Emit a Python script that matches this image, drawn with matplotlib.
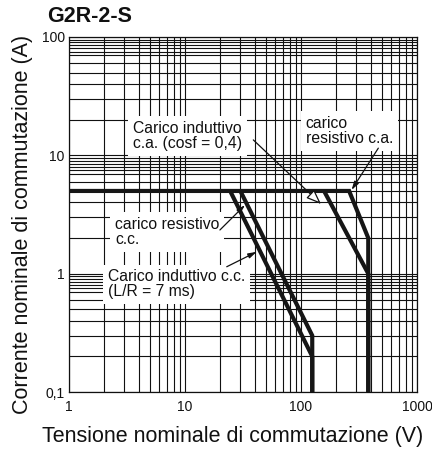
import numpy as np
import matplotlib
matplotlib.use("Agg")
import matplotlib.pyplot as plt
from matplotlib.ticker import FixedLocator, FixedFormatter, NullFormatter

plt.rcParams['font.family'] = ['Liberation Sans', 'DejaVu Sans']

# Switching limit curves: voltage (V) vs. current (A)
dc_res_v = [30, 125, 125]
dc_res_i = [5, 0.3, 0.1]
dc_ind_v = [24.5, 125, 125]
dc_ind_i = [5, 0.2, 0.1]
ac_res_v = [1, 260, 380, 380]
ac_res_i = [5, 5, 2, 0.1]
ac_ind_v = [158, 380, 380]
ac_ind_i = [5, 1, 0.1]

x_ticks = [1, 10, 100, 1000]
x_tick_labels = ["1", "10", "100", "1000"]
y_ticks = [0.1, 1, 10, 100]
y_tick_labels = ["0,1", "1", "10", "100"]

title = "G2R-2-S"
x_label = "Tensione nominale di commutazione (V)"
y_label = "Corrente nominale di commutazione (A)"

fig = plt.figure(figsize=(4.32, 4.5), dpi=100)
ax = fig.add_axes([69 / 432, 1 - 392 / 450, 348 / 432, 355 / 450])
ax.set_xscale('log')
ax.set_yscale('log')
ax.set_xlim(1, 1000)
ax.set_ylim(0.1, 100)

# grid lines
x_minor = [m * d for d in (1, 10, 100) for m in range(2, 10)]
y_minor = [m * d for d in (0.1, 1, 10) for m in (2, 3, 4, 5, 6, 7, 7.5, 8, 8.5, 9, 9.5)]
ax.xaxis.set_major_locator(FixedLocator(x_ticks))
ax.xaxis.set_major_formatter(FixedFormatter(x_tick_labels))
ax.yaxis.set_major_locator(FixedLocator(y_ticks))
ax.yaxis.set_major_formatter(FixedFormatter(y_tick_labels))
ax.xaxis.set_minor_locator(FixedLocator(x_minor))
ax.yaxis.set_minor_locator(FixedLocator(y_minor))
ax.xaxis.set_minor_formatter(NullFormatter())
ax.yaxis.set_minor_formatter(NullFormatter())
ax.set_axisbelow(True)
ax.grid(which='both', color='#111111', lw=0.8)
ax.tick_params(which='both', length=0, labelsize=10, colors='#111111')
ax.tick_params(axis='x', pad=6)
ax.tick_params(axis='y', pad=3)
for s in ax.spines.values():
    s.set_linewidth(0.9)
    s.set_color('#111111')

curve_kw = dict(color='#161616', lw=3.0, solid_joinstyle='miter', solid_capstyle='butt', zorder=4)
ax.plot(ac_res_v, ac_res_i, **curve_kw)
ax.plot(ac_ind_v, ac_ind_i, **curve_kw)
ax.plot(dc_res_v, dc_res_i, **curve_kw)
ax.plot(dc_ind_v, dc_ind_i, **curve_kw)

box = dict(boxstyle='square,pad=0.3', fc='white', ec='none')
txt_kw = dict(fontsize=11.3, ha='left', va='top', linespacing=1.0, bbox=box, zorder=3, color='#111111')
ax.text(3.56, 19.5, "Carico induttivo\nc.a. (cosf = 0,4)", **txt_kw)
ax.text(110, 21.5, "carico\nresistivo c.a.", **txt_kw)
ax.text(2.49, 3.0, "carico resistivo\nc.c.", **txt_kw)
ax.text(2.17, 1.09, "Carico induttivo c.c.\n(L/R = 7 ms)", **txt_kw)

thin = dict(arrowstyle='-|>,head_length=0.5,head_width=0.15', color='#111111', lw=0.9,
            shrinkA=0, shrinkB=0)
ax.annotate("", xy=(273, 5.1), xytext=(464, 11.5), arrowprops=thin, zorder=5)
ax.annotate("", xy=(32.9, 3.8), xytext=(20.0, 2.34), arrowprops=thin, zorder=5)
ax.annotate("", xy=(41.5, 1.53), xytext=(22.9, 1.144), arrowprops=thin, zorder=5)
hollow = dict(arrowstyle='-|>,head_length=0.9,head_width=0.35', fc='white', ec='#111111',
              lw=0.9, shrinkA=0, shrinkB=0)
ax.annotate("", xy=(148.7, 3.88), xytext=(38.8, 13.5), arrowprops=hollow, zorder=5)

fig.text(47 / 432, 1 - 22 / 450, title, fontsize=15.5, fontweight='bold', ha='left',
         va='baseline', color='#111111')
fig.text(233 / 432, 1 - 442 / 450, x_label, fontsize=15.5, ha='center', va='baseline',
         color='#111111')
fig.text(23 / 432, 1 - 224 / 450, y_label, fontsize=15.5, ha='center', va='center',
         rotation=90, color='#111111')

fig.savefig("out.png", dpi=100)
